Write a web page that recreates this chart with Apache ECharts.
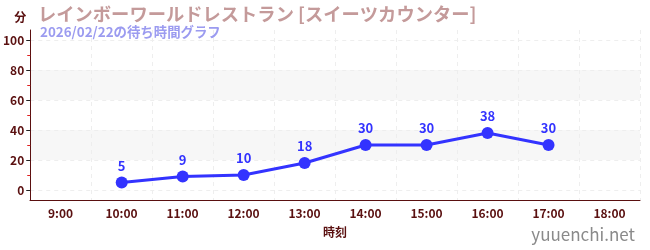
<!DOCTYPE html>
<html><head><meta charset="utf-8">
<script src="https://cdn.jsdelivr.net/npm/echarts@6/dist/echarts.min.js"></script>
<style>html,body{margin:0;padding:0;background:#fff}#c{width:650px;height:250px}</style>
</head><body><div id="c"></div>
<script>
const categories = ['9:00','10:00','11:00','12:00','13:00','14:00','15:00','16:00','17:00','18:00'];
const waitMinutes = [null, 5, 9, 10, 18, 30, 30, 38, 30, null];
const titleText = 'レインボーワールドレストラン [スイーツカウンター]';
const subtitleText = '2026/02/22の待ち時間グラフ';
const xName = '時刻';
const yName = '分';
const watermark = 'yuuenchi.net';

const maroon = '#5a1010';
const font = '"Noto Sans CJK JP", "Noto Sans", sans-serif';
const chart = echarts.init(document.getElementById('c'), null, {renderer: 'canvas'});
chart.setOption({
  animation: false,
  textStyle: {fontFamily: font},
  title: [
    {text: titleText, left: 33, top: 0, textStyle: {color: '#c49a9a', fontSize: 18.3, fontWeight: 'bold', fontFamily: font}},
    {text: subtitleText, left: 35, top: 20, textStyle: {color: '#9b9bf0', fontSize: 13.4, fontWeight: 'bold', fontFamily: font}},
    {text: watermark, right: 10, top: 221, textStyle: {color: '#8a8a8a', fontSize: 17, fontWeight: 'normal', fontFamily: font}}
  ],
  grid: [
    {left: 30, right: 10, top: 30, bottom: 50},
    {left: 30, right: 10, top: 40, bottom: 60}
  ],
  xAxis: [
    {gridIndex: 0, type: 'category', data: categories, boundaryGap: true,
     name: xName, nameLocation: 'middle', nameGap: 26,
     nameTextStyle: {color: maroon, fontWeight: 'bold', fontSize: 12},
     axisLine: {lineStyle: {color: maroon, width: 1}},
     axisTick: {alignWithLabel: true, length: 4, lineStyle: {color: '#888', width: 2}},
     axisLabel: {color: maroon, fontSize: 12, fontWeight: 'bold', margin: 7},
     splitLine: {show: true, interval: 0, lineStyle: {color: '#eeeeee', type: [4, 4], width: 1}}
    },
    {gridIndex: 1, type: 'category', data: categories, boundaryGap: true, show: false}
  ],
  yAxis: [
    {gridIndex: 0, type: 'value', min: 0, max: 100,
     axisLine: {show: true, lineStyle: {color: maroon}},
     axisTick: {show: false}, axisLabel: {show: false}, splitLine: {show: false}},
    {gridIndex: 1, type: 'value', min: 0, max: 100, interval: 20,
     name: yName, nameLocation: 'end', nameGap: 17,
     nameTextStyle: {color: maroon, fontWeight: 'bold', fontSize: 12, align: 'right', padding: [0, 4, 0, 0]},
     axisLine: {show: false},
     axisTick: {show: true, length: 4, lineStyle: {color: '#222'}},
     minorTick: {show: true, splitNumber: 2, length: 3, lineStyle: {color: '#e02020'}},
     axisLabel: {color: maroon, fontSize: 12, fontWeight: 'bold', margin: 6},
     splitLine: {show: true, lineStyle: {color: '#eeeeee', type: [4, 4]}},
     splitArea: {show: true, areaStyle: {color: ['rgba(0,0,0,0)', '#f7f7f7']}}
    }
  ],
  series: [{
    type: 'line', xAxisIndex: 1, yAxisIndex: 1, data: waitMinutes,
    symbol: 'circle', symbolSize: 12, connectNulls: false,
    lineStyle: {color: '#3333ff', width: 3},
    itemStyle: {color: '#3333ff'},
    label: {show: true, position: 'top', color: '#3333ff', fontWeight: 'bold', fontSize: 13, distance: 4}
  }]
});
</script></body></html>
